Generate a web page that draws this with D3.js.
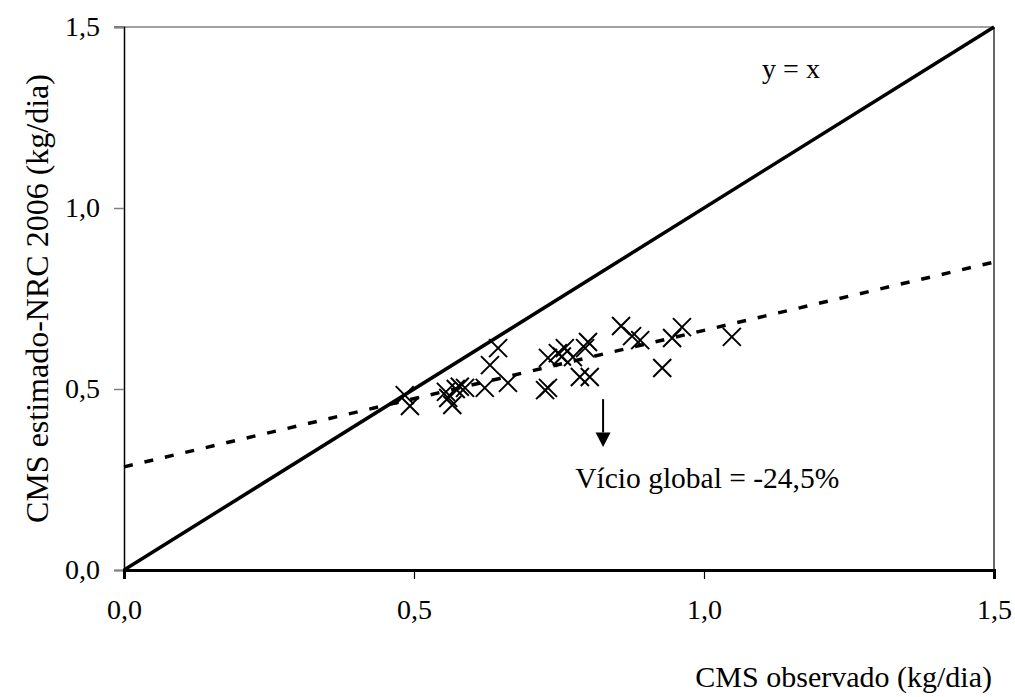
<!DOCTYPE html>
<html lang="pt">
<head>
<meta charset="UTF-8">
<title>CMS observado vs estimado</title>
<script src="https://d3js.org/d3.v7.min.js"></script>
<style>
    body { margin: 0; background: #fff; }
    svg text { font-family: "Liberation Serif", "Times New Roman", serif; fill: #000; }
</style>
</head>
<body>
<svg id="chart"></svg>
<script>
    // observed vs NRC 2006 estimated dry matter intake (kg/dia)
    const obsX = [0.484, 0.493, 0.555, 0.559, 0.566, 0.572, 0.579, 0.588, 0.622, 0.631, 0.645, 0.662,
        0.726, 0.731, 0.731, 0.748, 0.755, 0.760, 0.774, 0.786, 0.795, 0.800, 0.803,
        0.857, 0.876, 0.890, 0.928, 0.945, 0.962, 1.048];
    const estY = [0.483, 0.453, 0.492, 0.475, 0.456, 0.500, 0.506, 0.503, 0.503, 0.566, 0.613, 0.517,
        0.497, 0.503, 0.586, 0.599, 0.590, 0.613, 0.588, 0.533, 0.613, 0.630, 0.533,
        0.674, 0.646, 0.635, 0.558, 0.641, 0.671, 0.644];
    const identity = [0, 1.5];
    const fitIntercept = 0.285;
    const fitSlope = 0.377;
    const ticks = [0, 0.5, 1.0, 1.5];
    const tickLabels = ["0,0", "0,5", "1,0", "1,5"];

    const width = 1015, height = 697;
    const margin = {top: 27, right: 21, bottom: 127, left: 124};

    const svg = d3.select("#chart").attr("width", width).attr("height", height);

    const x = d3.scaleLinear().domain([0, 1.5]).range([margin.left, width - margin.right]);
    const y = d3.scaleLinear().domain([0, 1.5]).range([height - margin.bottom, margin.top]);

    // frame: top gray, right black
    svg.append("line")
        .attr("x1", x(0) - 10).attr("x2", x(1.5))
        .attr("y1", y(1.5)).attr("y2", y(1.5))
        .attr("stroke", "#808080").attr("stroke-width", 1.5);
    svg.append("line")
        .attr("x1", x(1.5)).attr("x2", x(1.5))
        .attr("y1", y(1.5)).attr("y2", y(0))
        .attr("stroke", "#000").attr("stroke-width", 1.2);

    // y axis
    const yAxis = svg.append("g")
        .attr("transform", `translate(${x(0)},0)`)
        .call(d3.axisLeft(y).tickValues(ticks).tickFormat((d, i) => tickLabels[i]).tickSize(10).tickPadding(14));
    yAxis.select(".domain").attr("stroke", "#000").attr("stroke-width", 1.5);
    yAxis.selectAll(".tick line").attr("stroke", "#808080").attr("stroke-width", 1.5);
    yAxis.selectAll(".tick text").attr("font-size", 28).attr("font-family", "Liberation Serif");

    // x axis
    const xAxis = svg.append("g")
        .attr("transform", `translate(0,${y(0)})`)
        .call(d3.axisBottom(x).tickValues(ticks).tickFormat((d, i) => tickLabels[i]).tickSize(9).tickPadding(20));
    xAxis.select(".domain").attr("stroke", "#000").attr("stroke-width", 3);
    xAxis.selectAll(".tick line").attr("stroke", "#000").attr("stroke-width", 1.2);
    xAxis.selectAll(".tick text").attr("font-size", 28).attr("font-family", "Liberation Serif");

    // y = x line
    svg.append("line")
        .attr("x1", x(identity[0])).attr("y1", y(identity[0]))
        .attr("x2", x(identity[1])).attr("y2", y(identity[1]))
        .attr("stroke", "#000").attr("stroke-width", 3.5);

    // regression line (dashed)
    svg.append("line")
        .attr("x1", x(0)).attr("y1", y(fitIntercept))
        .attr("x2", x(1.5)).attr("y2", y(fitIntercept + fitSlope * 1.5))
        .attr("stroke", "#000").attr("stroke-width", 3.5)
        .attr("stroke-dasharray", "9,12");

    // points as X markers
    const s = 9;
    svg.append("g").selectAll("path")
        .data(obsX.map((d, i) => [d, estY[i]]))
        .join("path")
        .attr("d", d => {
            const cx = x(d[0]), cy = y(d[1]);
            return `M${cx - s},${cy - s}L${cx + s},${cy + s}M${cx - s},${cy + s}L${cx + s},${cy - s}`;
        })
        .attr("stroke", "#000").attr("stroke-width", 2).attr("fill", "none");

    // annotations
    svg.append("text")
        .attr("x", x(1.15)).attr("y", y(1.36))
        .attr("text-anchor", "middle").attr("font-size", 28)
        .text("y = x");

    const arrowX = x(0.826);
    svg.append("line")
        .attr("x1", arrowX).attr("x2", arrowX)
        .attr("y1", y(0.472)).attr("y2", y(0.38))
        .attr("stroke", "#000").attr("stroke-width", 2);
    svg.append("path")
        .attr("d", `M${arrowX - 7.5},${y(0.38)}L${arrowX + 7.5},${y(0.38)}L${arrowX},${y(0.34)}Z`)
        .attr("fill", "#000");

    svg.append("text")
        .attr("x", x(0.778)).attr("y", y(0.226))
        .attr("font-size", 29.5)
        .text("Vício global = -24,5%");

    // axis titles
    svg.append("text")
        .attr("x", 992).attr("y", 687)
        .attr("text-anchor", "end").attr("font-size", 30)
        .text("CMS observado (kg/dia)");

    svg.append("text")
        .attr("transform", `translate(37,${(y(0) + y(1.5)) / 2}) rotate(-90)`)
        .attr("text-anchor", "middle").attr("dominant-baseline", "central").attr("font-size", 32)
        .text("CMS estimado-NRC 2006 (kg/dia)");
</script>
</body>
</html>
